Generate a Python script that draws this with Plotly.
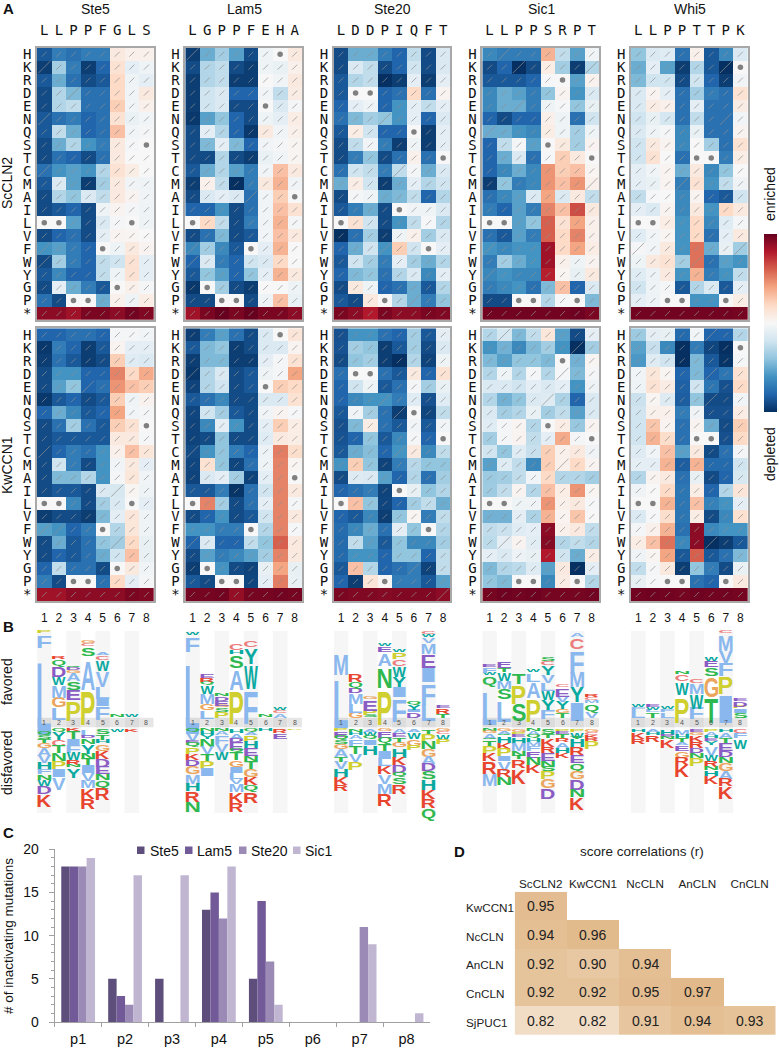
"""
Deep mutational scan figure: score heatmaps, sequence logos, inactivating mutation counts, correlations.
"""
import plotly.graph_objects as go

W, H = 779, 1050

ROWS = ["H", "K", "R", "D", "E", "N", "Q", "S", "T", "C", "M", "A", "I", "L", "V", "F", "W", "Y", "G", "P", "*"]
POSITIONS = [1, 2, 3, 4, 5, 6, 7, 8]
MOTIFS = ["Ste5", "Lam5", "Ste20", "Sic1", "Whi5"]
PEPTIDES = ["LLPPFGLS", "LGPPFEHA", "LDDPIQFT", "LLPPSRPT", "LLPPTTPK"]
PANEL_LEFT = [37, 185.3, 333.7, 482.3, 631]
PANEL_WIDTH = 116.7

# scores, -10 (depleted) to 10 (enriched), rows as in ROWS
STE5_SC = [
    [-8.5, -7, -7.5, -7, -7, 1, 0.5, 0.5], [-9.5, -3.5, -7, -9.5, -8, 1.5, -1, -0.5],
    [-8.5, -5, -7.5, -9, -8.5, 2, -0.5, -1], [-9, -3, -4.5, -7.5, -7.5, 2, -0.3, 1],
    [-9, -3, -2.5, -7.5, -7.5, 2.5, -0.3, 0.5], [-8.5, -7.5, -7, -8, -7.5, 1.5, -0.7, -0.3],
    [-8.5, -2.5, -5, -8, -7.5, 3, -0.3, -0.2], [-9, -5, -3, -6, -7, 1, -0.2, 0],
    [-9, -7.5, -8, -9, -7.5, 1, 0, 0], [-7.5, -6, -5.5, -6, -3, 1.5, 0.7, 0],
    [-8.5, -1.5, -5.5, -9.5, -3.5, 1, -0.3, -0.5], [-9, -3, -4, -1.5, -2.5, 1, 0.3, -0.3],
    [-9, -8.5, -8, -9, -0.5, 0.3, -0.2, -0.5], [0, 0, -5.5, -9, -1.5, -0.2, 0, -0.5],
    [-9, -8, -7.5, -9, -1, 0.3, 0.2, 0], [-6, -5.5, -7, -8, 0, -0.5, 1, 0.3],
    [-9, -3.5, -7, -8, -2.5, -2, 1.5, -1], [-8.5, -6.5, -8, -8, -2.5, -0.5, 1.5, -1],
    [-9, -1, -5, -7, -8.5, 0, 0.5, -0.2], [-7.5, -9, 0, 0, -5, 0.5, -0.5, 0.7],
    [9, 9, 8.5, 9.5, 9.5, 9, 9.7, 9.3],
]
LAM5_SC = [
    [-9.5, -5, -3.5, -5.5, -9, -0.5, 0, 1], [-9, -3, -2.5, -9, -9.5, -0.5, -0.7, 0.5],
    [-9.5, -3, -2.5, -9.5, -9.5, 0, -0.3, 1], [-9.5, -2, -1.5, -8, -8, -0.3, -2.5, 0.8],
    [-9.5, -2, -1.5, -9, -9, 0, -1.5, -0.2], [-9.7, -5.5, -4, -8, -9, -0.5, -1, 0.7],
    [-9, -1, -3, -8, -9.7, 1, -0.3, 0.5], [-9, -4.5, -1, -4.5, -8, -0.3, -0.2, 0.2],
    [-9, -9, -3, -9, -9.5, -0.7, -0.3, 0.2], [-8.5, -5, -3, -5.5, -7, -0.3, 3, 1],
    [-9.5, 0.5, -2.5, -10, -7, 1, 3.5, -0.3], [-9, -1.5, -1, -1.5, -7.5, -0.3, 2.5, 0],
    [-8, -8, -6, -9, -7.5, -0.3, 3, 1.5], [0, 2, -2.5, -9, -7, -0.3, 3.5, -0.2],
    [-9, -7.5, -4.5, -9, -8.5, -0.3, 3, 1], [-6.5, -3.5, -6.5, -8.5, 0, -1, 3.5, 0],
    [-8, -1.5, -7, -8, -2, -1.5, 2, 0], [-8.5, -4, -5.5, -8, -4, -1, 3.5, 1],
    [-9.7, 0, -3.5, -9, -9.5, 0, 0, -0.5], [-9, -9, 0, 0, -9, -0.5, 3, -0.7],
    [8.5, 9.5, 10, 9.5, 10, 9.5, 9.5, 9],
]
STE20_SC = [
    [-9, -5, -5, -7, -8, -2.5, -9, -1.5], [-9, -1.5, -2.5, -9, -8, -2, -9, -1.5],
    [-8.5, -3, -2.5, -10, -9.5, -1, -9.5, -1], [-8.5, 0, 0, -8, -7.5, 2, -7.5, 0.3],
    [-8, -1, -0.5, -8, -6, -1, -2.5, -1], [-7.5, -4.5, -3.5, -4, -6, -1, -8, -1.5],
    [-8.5, 0.7, -2, -8, -8, 0, -9.5, -1], [-9, -2.5, -0.3, -7, -9.5, -0.5, -9.5, -1],
    [-9, -7, -4, -9, -7.5, 0.5, -7.5, 0], [-7.5, -2, -2.5, -7, -2.5, -0.2, -5, -1.5],
    [-5, 0.7, -2, -9.5, -5, -1, -3, -2], [-9, -0.2, -0.5, -5, -4.5, -2.5, -8, -3],
    [-8.5, -7, -5, -9, 0, -0.3, -0.5, -1.5], [0, 1.5, -2, -9, -6, -2.5, -0.1, -3],
    [-10, -7.5, -3.5, -9.5, -0.5, 0.5, -3.5, -1.5], [-8, -5, -2, -6, 2.5, -2, 0, -1],
    [-8.5, -2, -3.5, -7, -1, -3.5, -5, -3], [-8, -4.5, -4, -7.5, -3, -1.5, -6.5, -1],
    [-9, 1, -0.5, -8, -7.5, -5, -8.5, -3], [-8.5, -9, 1, 0, -3, -5, -7, -4],
    [9.5, 9, 8, 9.5, 9, 9, 9.5, 9.3],
]
SIC1_SC = [
    [-6.5, -7, -7, -7, 3.5, -2.5, -5.5, -0.3], [-9, -8, -10, -9, 0.7, -3.5, -9.5, -3],
    [-8.5, -8.5, -8.5, -8, -0.1, 0, -5.5, 0.4], [-6.5, -5, -5.5, -7, -4, 0.3, -6, -1.5],
    [-6.5, -5, -5, -7, -0.5, -0.1, -4, -0.8], [-8, -9, -8, -8, 0.5, -0.5, -7.5, -2],
    [-5, -5, -6, -6.5, 0.7, -0.5, -3.5, -0.5], [-8, -2.5, -0.2, -5.5, 0, 1, -3.5, 0.3],
    [-8, -5, -1.5, -7.5, -0.1, 2.5, 1, 0], [-8, -6.5, -5, -6.5, 4.5, 2.5, 3, 0.2],
    [-9.5, -4, -7, -6.5, 4.5, 3, 4.5, 0.5], [-7.5, -6.5, -5.5, -1.5, 4, -1.5, 1, -2.5],
    [-7, -8, -5.5, -7, 5, 3, 6.5, 1], [0, 0, -5.5, -4, 6, 1.5, 4, 0.5],
    [-7.5, -8.5, -5.5, -7, 6, 2, 5, 0.5], [-6, -6.5, -6, -6, 8.5, 2, 4, 0.7],
    [-7, -3.5, -5, -6, 8.5, 0.5, -0.5, 0.3], [-6.5, -6, -6.5, -6.5, 7.8, 0.2, -0.8, 1],
    [-7, -6.5, -6, -7.5, -4.5, 3, -8, -1.5], [-9, -9, 0, 0, -3, -0.1, 0, -4.5],
    [9.7, 9.7, 9.7, 9.7, 9.7, 9.7, 9.8, 9.5],
]
WHI5_SC = [
    [-4, -1.5, -1.2, -7.5, 0.5, -8.5, -6.5, -1.5], [-5, -1, -5.5, -9.5, -3, -8.5, -10, 0],
    [-4.5, -2, -2, -9, -2, -8, -9.5, -0.3], [-1.5, 0.3, -1, -7.5, -3.5, -7, -7.5, 1.5],
    [-1.5, 0.8, 0.5, -7.5, -1, -7.5, -7.5, 0.8], [-2, -0.8, -1.8, -7.5, -2.5, -7.5, -7.5, -0.3],
    [-1.5, -0.5, -0.2, -6.5, -0.7, -7.5, -7.5, 0.3], [-2, 1, 0.3, -6.5, 0, -3.5, -7.5, 1.5],
    [-2, 1.5, 0, -7.5, 0, 0, -7, 0.7], [-1, -0.3, 0.3, -5, 1, -6.5, -4, 0],
    [-1, -0.7, 0.3, -7, 1.5, -6, -2.5, -0.4], [-2.5, -0.1, 0, -6.5, 0.3, -8, -8.5, -2],
    [-1, -1.5, 0.3, -6.5, 1, -6, 2, 1], [0, 0, 0.7, -6, 2, -6.5, -1.2, -0.2],
    [-1.2, -0.3, 0.2, -6, 2, -7.5, -1, 1], [-0.1, -0.3, 1, -6, 5.5, -5, -0.8, -3.5],
    [-0.5, 1, 1.5, -3.5, 5.5, -7.5, -5.5, -6], [-1.2, -0.6, 1, -6, 3.5, -7, -6, -2.5],
    [-2, -0.5, -0.2, -8.5, -3, -1.5, -8.5, -1], [-1, -0.6, 0, 0, -6, -6, 0, 0.7],
    [9.7, 9.7, 9.7, 9.7, 9.7, 9.7, 9.7, 9.6],
]
STE5_KW = [
    [-8, -8, -7.5, -7.5, -8, -0.2, -0.2, -0.3], [-9.7, -7, -8, -9.5, -8.5, 0.3, -1, -1],
    [-9.5, -7.5, -8.5, -9.5, -9, 2.5, -1.2, -1.5], [-9, -6, -6, -8, -8, 5, 2, 3.8],
    [-9, -5.5, -4, -8, -7.5, 4.5, 3, 2.5], [-9.7, -8.5, -8, -9, -8.5, 2.5, -0.5, 0.4],
    [-8, -5, -6.5, -8.5, -8, 4, -0.3, -0.2], [-9, -7.5, -3.5, -7.5, -8.5, 2.5, 1.5, 0],
    [-9, -8.5, -8.5, -8.5, -8.5, 1, 1, -0.1], [-9, -8, -7, -7.5, -6, 0.5, 3, 1.2],
    [-9, -2, -7, -9, -6, -0.3, 1, -1], [-9, -4.5, -4.5, -3, -6, -0.2, 1.2, -0.3],
    [-9, -8.5, -8.5, -9, -1.5, -1.7, 0.2, -0.5], [0, 0, -6.5, -9, -3.5, -1.5, 0, -1],
    [-9.5, -9, -9, -9.5, -4.5, -1, 1.2, -0.5], [-5.5, -6, -8, -7, 0, -3, 1.2, -0.5],
    [-9, -5, -8.5, -7.5, -4, -3.5, 2, -0.8], [-9, -8, -8.5, -7.5, -5, -2, 3, -0.8],
    [-8, -2.5, -7.5, -7.5, -9, 0, 1, -0.3], [-7, -9, 0, 0, -7.5, 2, -1, -0.2],
    [8.5, 8.5, 9, 9, 9, 9, 9.5, 9.3],
]
LAM5_KW = [
    [-9.5, -7, -5.5, -7.5, -9, -1.5, 0, 1.3], [-8.5, -4.5, -4, -9.5, -9, -1.5, -1.5, 0.3],
    [-9.5, -4.5, -4.5, -9.5, -9.5, -1, -0.2, 1.5], [-9.7, -3, -1.5, -9, -8.5, -0.5, -0.2, 4],
    [-9.3, -3, -2, -9, -8.5, 0, 2.5, 2], [-8.5, -7.5, -6.5, -9, -9, -1.5, -1.5, 1.5],
    [-9.2, -2, -3.5, -8.5, -9, -0.3, 0.3, -0.1], [-9.3, -6.5, -1, -6, -9, -1, 2.5, 0.7],
    [-9.3, -9, -4, -9, -9, -1.2, 1, 0.7], [-9, -6, -4, -7, -8, -0.6, 5.2, 1.8],
    [-9.2, 1.5, -4, -9.2, -7.5, -0.5, 5, 0.2], [-9.3, -1.5, -1, -3.5, -9.3, -1, 5, 0],
    [-8.5, -8.5, -7, -9.8, -7.5, -2, 5, 1], [0, 5, -3.5, -9, -7.5, -1, 5, -0.2],
    [-9, -8, -6, -9, -8.5, -2, 5, 1], [-6, -6, -7, -7, 0, -3, 5, -0.1],
    [-8, -1.5, -8, -8, -2.5, -4, 6, 1], [-9, -5.5, -7, -6.5, -5.5, -3.5, 5, 1],
    [-9.5, 0, -6, -9, -9.3, -0.8, 4, -0.8], [-8.5, -9, 0, 0, -9.2, -1, 5.2, -0.7],
    [9.6, 9.6, 9.7, 8.8, 9.6, 9.6, 9.7, 9.6],
]
STE20_KW = [
    [-8.8, -6, -6, -7.5, -8, -3.5, -8.5, -1], [-8.7, -3.5, -4, -9.5, -8.5, -3.5, -9, -1.5],
    [-9, -4, -3.5, -9.5, -10, -3, -9.3, -0.5], [-7.5, 0, 0, -7.5, -8.5, 1, -8, 1.5],
    [-8, -2, -0.5, -8.5, -7.5, -0.2, -3.5, -0.7], [-8, -6.5, -6, -6, -7, -1.2, -8.8, -1.2],
    [-8.5, -0.3, -3.5, -7.5, -9.5, 0, -9.2, -2.5], [-8.8, -4.5, 0.7, -7.5, -8.5, -0.3, -8.5, -0.3],
    [-8.7, -8, -4, -8.5, -6.5, -0.2, -8, 0], [-8.5, -5, -4.3, -8, -6, 1, -6.5, -2.5],
    [-6, 2.5, -4, -9.3, -7, -2.8, -4, -4], [-9, -1.3, -1.5, -5.5, -8, -3, -7.5, -3.5],
    [-8, -7.5, -7, -9.3, 0, -0.8, -4, -3], [0, 3, -4, -9.2, -8, -3.5, -2.5, -5],
    [-8, -8.5, -6.5, -9.5, -4, 0.2, -7, -2.5], [-7.7, -6.5, -5, -7.5, -1, -4, 0, -3],
    [-7.8, -2.5, -5.5, -8.5, -4, -6.5, -6.5, -3.5], [-7.8, -6, -6, -8, -4, -4, -8, -2.5],
    [-8.5, 3, -3, -8, -7.5, -7, -9.3, -2.5], [-8, -9.5, 1.3, 0.1, -7, -7, -8.5, -5.5],
    [9.5, 9.3, 9.3, 9.2, 9.3, 9.3, 9.3, 9],
]
SIC1_KW = [
    [-3, -1.8, -4.5, -2.5, 1.2, -5.5, -9, -1], [-6, -4.8, -6.5, -4.5, -3.5, -6, -10, -3.5],
    [-4.5, -5.5, -4, -4, -4.5, 0, -4.8, 0.2], [-3, -0.5, -3, -0.2, -3, -0.1, -4.5, -0.2],
    [-1.5, -1.5, -2, -1, -1.5, -1, -6, -0.6], [-3, -4.8, -4, -1.5, -1.3, -3.2, -8, -1.5],
    [-1.5, -3.5, -3, -0.7, -3.5, -2.5, -5.5, -1.5], [-1.2, -0.2, 0.2, -3, 0, 0.7, -3.8, 0.3],
    [-3.5, -0.2, 0.3, -2.5, -1, 3.8, -0.2, 0], [-2, -4, -1.2, -2.3, 2.5, 0.5, 1, -0.4],
    [-5.5, -1.2, -2.5, -6.5, 2.5, 0.5, 2, 0.3], [-3.7, -3.5, -2.5, -0.3, 2, -3, -3, -3.5],
    [-3.6, -2.5, 0.3, -3, 3, 0.7, 4.5, 0.2], [0, 0, -0.5, -0.4, 4.5, 0.5, 1, -0.1],
    [-4.8, -4.8, -1, -3.2, 3.5, 0.3, 2.8, 0], [-2.5, -2.2, -1.2, -1, 9, 0.5, 1, -2.5],
    [-2.7, -1, 0.3, -1.1, 9.2, -3, -2.5, -3], [-1, -1.5, -0.6, -0.8, 8, -2, -5, 0.7],
    [-4.5, -3, -2.7, -1.3, -5.5, 1, -10, -1], [-4, -4.5, 0, 0, -6.5, 0.8, 0, -3],
    [9.6, 9.8, 9.7, 9.8, 9.6, 9.6, 9.6, 9.7],
]
WHI5_KW = [
    [-3.7, -1, -0.8, -7.8, -0.3, -8, -8, -3], [-5.5, -2.3, -6.5, -10, -7, -9.2, -10, 0],
    [-5.8, -1.2, -2, -10, -4.5, -8.5, -9.8, -0.2], [-0.3, 1.2, 0.2, -8, -4.5, -8, -7.3, 1.5],
    [-0.5, 1.5, 0.8, -8.2, -2, -7.3, -8.8, 2], [-2.2, 0.2, -1.3, -8.3, -4, -9, -9, -0.3],
    [-2, 0.5, 0.5, -7, -0.4, -8.8, -8.8, 0.7], [-2, 2.8, 0.3, -7.5, 0.3, -5, -9, 2.5],
    [-2, 3.5, 1.8, -7.5, 0, 0, -8.8, 2], [-1.3, -0.3, 3, -5.5, 1, -9, -7.5, -0.2],
    [-1, -1, 3.5, -8.3, 3.5, -7.8, -7.8, -2], [-3, 0.3, 1, -7.5, -0.8, -9, -8, -1.7],
    [-0.4, 0, 2, -7.3, 0.7, -8, -3, 1.3], [0, 0, 3.5, -7.3, 3, -6.8, -6, -1],
    [-1.5, -0.1, 1.8, -7.3, 0.7, -9, -6.5, 1.6], [-0.2, 0.5, 3.5, -7.5, 9, -6.5, -6, -6],
    [0.7, 3, 5.5, -6.5, 9, -10, -9.5, -8.5], [-0.4, 0.2, 4, -8.5, 6, -8.5, -7.5, -4.5],
    [-2.5, -0.2, 1, -9.5, -4, -7, -9, -0.7], [-0.8, -0.1, 0, 0, -7.5, -8, 0, 1],
    [9.7, 9.8, 9.7, 9.6, 9.8, 9.7, 9.7, 9.6],
]
SCORES_SC = [STE5_SC, LAM5_SC, STE20_SC, SIC1_SC, WHI5_SC]
SCORES_KW = [STE5_KW, LAM5_KW, STE20_KW, SIC1_KW, WHI5_KW]

# cells with a long error slash, row letter + position
LONG_SC = [["K1", "N1", "C1", "W1", "F1", "D3"], ["W1", "F1", "H1", "A5"], ["C5", "N4", "F4", "P6"],
           ["K3", "H2", "Q1", "Y1", "F1", "M8", "K8", "E3"], ["F1", "K7", "M4", "W5", "F8", "N7"]]
LONG_KW = [["C1", "F1", "F2", "E4", "I6", "W6"], ["W1", "C1", "D1"], ["N4", "Q5", "C5", "*8", "G6"],
           ["W2", "H2", "N5", "D6", "K7", "M6"], ["N6", "H6", "D6", "W6"]]

# logo stacks in letter+height, favored from the baseline up, disfavored from the baseline down
LOGO_FAV = [
    ["L72 F12 P2", "L12 G10 M12 W8 D10 Q6 R2", "P19 E10 S8 A7 G3 D3 Q2", "P34 A29 S8 C3 G3",
     "F13 I8 L12 V15 W10 C4 A3", "N2", "W2", ""],
    ["L68 F14 W3", "L8 G7 M10 W8 Q3 R4 E4", "P6 S4 G2 E5 D4 N3", "P32 A20 S12 H4 C7",
     "F33 W23 Y15 C6", "N2", "A4 C3 W2", ""],
    ["L47 M21", "G6 L9 M10 D5 Q6 R7", "S3 P5 E10 G3", "P34 N20 A12 E5 W3",
     "F22 I10 Y10 W10 C7 P6 W2", "D5 I3 Y5 Q3", "L17 F21 I14 E13 M10 V5 W3 C2", "T4 R5 E3"],
    ["L32 Q10 W3 F5 E2", "L20 S10 M8 W8 T4 E6", "S17 P18 T10", "P22 A15 L8 W2",
     "F9 Y10 W9 L8 V8 Y9 C4 S4", "T5 G4 Y7 V6 E8 C3", "I18 Y15 M15 F22 C11 A4", "V6 Q8 M3 C3 R3"],
    ["L7 F3 W3", "T5 L2 W3 E2", "L5 F3 W3", "P25 W12 C6 N3", "F11 W14 M10 C4",
     "T24 G19 S8 E6 W4", "I27 P17 F13 V12 M15 C3", "S5 I4 P2 D5 E2"],
]
LOGO_DIS = [
    ["M3 Q3 S4 T4 G5 A7 V7 H7 F5 N5 W6 D8 K12", "Q3 Y7 C6 T7 N8 P8 I8 V12", "K2 T7 I6 F8 W7 R5 N3 Y9",
     "L6 D3 N5 Y9 N6 T7 I7 V8 M7 K10 R10", "S5 T5 H4 G7 K8 D8 E7 N6 Q8 R11", "W3", "K3", ""],
    ["Q3 V8 E3 Q4 P6 K6 D6 G8 M9 H8 R10 N10", "N2 H4 Y4 N7 V7 T8 P7 I7", "N2 A4 F8 V8 W8",
     "H4 A5 D4 E7 Q3 T7 G7 I6 L6 V5 M8 K10 R9", "Q3 A3 P6 H7 E7 N5 T8 G8 K8 Q7 R10", "H2", "R4 E5", "P1"],
    ["P2 E5 Q4 S4 G5 A7 T5 V7 H8 K8 R6", "N3 H3 A4 F6 T8 V8 P8", "A3 W4 Q3 I5 H9",
     "G2 E6 Q6 T8 I7 L7 K8 V9 M10 R12", "A4 E4 T5 G5 H9 K8 D8 Q5 S6 R9", "A3 W6 G7 P5",
     "T5 P7 N7 G8 A7 D7 S8 H10 K9 R9 Q12", "G2 C3 W5 P5"],
    ["N2 G2 A5 Q2 T6 P7 K7 R12 M12", "G2 A3 Q2 H6 K6 P7 I5 V9 R7 N8", "G3 P3 E2 H6 M7 N5 T4 R8 K14",
     "N2 A4 Q3 H4 M4 F5 E6 N7 K8", "S5 T4 K8 R6 E8 N6 S5 P7 G9 D10", "P3 E2 T4 R4 A5 H5 K5",
     "P3 W5 T2 H7 R8 E8 Q8 G8 D10 N8 K12", "G3 C3 K3 R3 P7"],
    ["H3 K6 R5", "A3 H3 R6", "H5 E3 N2 K8", "M5 H4 T4 A3 E5 G7 R7 K11", "E3 G3 K6 R6 D5 N5 P8",
     "P3 A4 H2 E3 Y4 V9 W6 R6 N4 H5 K8", "H3 A5 T5 E8 D6 N6 G8 A8 R7 K12", "C4 F5 W9"],
]
LETTER_COLORS = {"A": "#8ab8ee", "F": "#8ab8ee", "I": "#8ab8ee", "L": "#8ab8ee", "M": "#8ab8ee", "V": "#8ab8ee",
                 "C": "#eb7d7d", "D": "#8a5cc4", "E": "#8a5cc4", "G": "#eba55d", "H": "#0aa9a0", "W": "#0aa9a0",
                 "Y": "#0aa9a0", "K": "#e8452f", "R": "#e8452f", "N": "#2eb84f", "Q": "#2eb84f", "S": "#2eb84f",
                 "T": "#2eb84f", "P": "#cfcf30"}

BAR_CATEGORIES = ["p1", "p2", "p3", "p4", "p5", "p6", "p7", "p8"]
BAR_STE5 = [18, 5, 5, 13, 5, 0, 0, 0]
BAR_LAM5 = [18, 3, 0, 15, 14, 0, 0, 0]
BAR_STE20 = [18, 2, 0, 12, 7, 0, 11, 0]
BAR_SIC1 = [19, 17, 17, 18, 2, 0, 9, 1]
BAR_COLORS = ["#5d4e7b", "#725a98", "#9a8ab5", "#c0b6d2"]

CORR_COLS = ["ScCLN2", "KwCCN1", "NcCLN", "AnCLN", "CnCLN"]
CORR_ROWS = ["KwCCN1", "NcCLN", "AnCLN", "CnCLN", "SjPUC1"]
CORR_VALUES = [
    [0.95, None, None, None, None],
    [0.94, 0.96, None, None, None],
    [0.92, 0.90, 0.94, None, None],
    [0.92, 0.92, 0.95, 0.97, None],
    [0.82, 0.82, 0.91, 0.94, 0.93],
]

RDBU = ["#053061", "#2166ac", "#4393c3", "#92c5de", "#d1e5f0", "#f7f7f7", "#fddbc7", "#f4a582", "#d6604d", "#b2182b", "#67001f"]
SANS = "Liberation Sans"
MONO = "DejaVu Sans Mono"

fig = go.Figure()
shapes = []
annotations = []
axis_count = 0


def dom_x(x0, x1):
    return [x0 / W, x1 / W]


def dom_y(y_top, y_bottom):
    return [1 - y_bottom / H, 1 - y_top / H]


def new_axes(x_opts, y_opts):
    """Register one x/y axis pair and return the trace references."""
    global axis_count
    axis_count += 1
    n = axis_count
    fig.update_layout(**{
        f"xaxis{n}": dict(anchor=f"y{n}", showgrid=False, zeroline=False, automargin=False, **x_opts),
        f"yaxis{n}": dict(anchor=f"x{n}", showgrid=False, zeroline=False, automargin=False, **y_opts),
    })
    return f"x{n}", f"y{n}"


def label(x, y, text, size=13, angle=0, bold=False, xanchor="center", color="#111111", family=SANS):
    annotations.append(dict(xref="paper", yref="paper", x=x / W, y=1 - y / H, text=f"<b>{text}</b>" if bold else text,
                            showarrow=False, textangle=angle, xanchor=xanchor, yanchor="middle",
                            font=dict(size=size, family=family, color=color)))


def add_score_map(i, scores, long_cells, y_top, y_bottom, is_top):
    x_opts = dict(domain=dom_x(PANEL_LEFT[i], PANEL_LEFT[i] + PANEL_WIDTH), range=[0.5, 8.5], tickmode="array",
                  tickvals=POSITIONS, ticklen=0, showline=True, mirror=True, linecolor="#a8a8a8", linewidth=1.5)
    if is_top:
        x_opts.update(side="top", ticktext=list(PEPTIDES[i]), tickfont=dict(family=MONO, size=14, color="#111111"),
                      ticklabelstandoff=5)
    else:
        x_opts.update(side="bottom", ticktext=[str(p) for p in POSITIONS], tickfont=dict(family=SANS, size=12, color="#111111"),
                      ticklabelstandoff=5)
    y_opts = dict(domain=dom_y(y_top, y_bottom), range=[20.5, -0.5], tickmode="array", tickvals=list(range(21)),
                  ticktext=ROWS, tickfont=dict(family=MONO, size=14, color="#111111"), ticklen=0,
                  showline=True, mirror=True, linecolor="#a8a8a8", linewidth=1.5, ticklabelstandoff=1)
    xa, ya = new_axes(x_opts, y_opts)
    fig.add_trace(go.Heatmap(z=scores, x=POSITIONS, y=list(range(21)), coloraxis="coloraxis", xaxis=xa, yaxis=ya))

    # wild-type residues get a dot, every other cell its error slash
    dot_x, dot_y, slash_x, slash_y, slash_size = [], [], [], [], []
    for r, aa in enumerate(ROWS):
        for p in POSITIONS:
            if PEPTIDES[i][p - 1] == aa:
                dot_x.append(p)
                dot_y.append(r)
            else:
                slash_x.append(p)
                slash_y.append(r)
                slash_size.append(12 if f"{aa}{p}" in long_cells else 5)
    fig.add_trace(go.Scatter(x=slash_x, y=slash_y, mode="markers", xaxis=xa, yaxis=ya, showlegend=False,
                             marker=dict(symbol="line-ne", size=slash_size, line=dict(color="#8f8f8f", width=1))))
    fig.add_trace(go.Scatter(x=dot_x, y=dot_y, mode="markers", xaxis=xa, yaxis=ya, showlegend=False,
                             marker=dict(symbol="circle", size=5.5, color="#808080")))


def add_logo(i):
    top, bottom, base = 631, 813.3, 716.7
    xa, ya = new_axes(dict(domain=dom_x(PANEL_LEFT[i], PANEL_LEFT[i] + PANEL_WIDTH), range=[0.5, 8.5], visible=False),
                      dict(domain=dom_y(top, bottom), range=[base - bottom, base - top], visible=False))
    xs, ys, letters, sizes, colors = [], [], [], [], []
    for p in POSITIONS:
        if p % 2 == 1:
            shapes.append(dict(type="rect", xref=xa, yref=ya, layer="below", x0=p - 0.5, x1=p + 0.5,
                               y0=base - bottom, y1=base - top, fillcolor="#f6f6f6", line_width=0))
        shapes.append(dict(type="rect", xref=xa, yref=ya, layer="below", x0=p - 0.5, x1=p + 0.5, y0=-10.6, y1=-1,
                           fillcolor="#dcdcdc" if p % 2 == 1 else "#e6e6e6", line_width=0))
        annotations.append(dict(xref=xa, yref=ya, x=p, y=-5.8, text=str(p), showarrow=False,
                                font=dict(size=7, family=SANS, color="#555555")))
        for stacks, start, sign in ((LOGO_FAV, 0, 1), (LOGO_DIS, -11.6, -1)):
            level = start
            for item in stacks[i][p - 1].split():
                height = float(item[1:])
                xs.append(p)
                ys.append(level + sign * height / 2)
                letters.append(item[0])
                sizes.append(height)
                colors.append(LETTER_COLORS[item[0]])
                level += sign * height
    fig.add_trace(go.Scatter(x=xs, y=ys, text=letters, mode="text", xaxis=xa, yaxis=ya, cliponaxis=False, showlegend=False,
                             textposition="middle center",
                             textfont=dict(size=sizes, color=colors, family=SANS, weight="bold")))


for i in range(5):
    add_score_map(i, SCORES_SC[i], LONG_SC[i], 47.7, 320, True)
    add_score_map(i, SCORES_KW[i], LONG_KW[i], 328.3, 601, False)
    add_logo(i)
    label(PANEL_LEFT[i] + PANEL_WIDTH / 2 + 0.5, 9, MOTIFS[i], size=14)

# panel C
bar_x, bar_y = new_axes(
    dict(domain=dom_x(54.7, 430), type="category", categoryorder="array", categoryarray=BAR_CATEGORIES, tickson="boundaries",
         ticks="outside", ticklen=4, tickcolor="#a0a0a0", showline=True, linecolor="#a0a0a0", linewidth=1,
         tickfont=dict(family=SANS, size=14.5, color="#111111"), ticklabelstandoff=4),
    dict(domain=dom_y(849.3, 1022), range=[0, 20], tickmode="array", tickvals=[0, 5, 10, 15, 20], ticks="outside", ticklen=5,
         tickcolor="#a0a0a0", showline=True, linecolor="#a0a0a0", linewidth=1,
         minor=dict(tickmode="array", tickvals=list(range(21)), ticks="outside", ticklen=3, tickcolor="#a0a0a0"),
         tickfont=dict(family=SANS, size=14, color="#111111"), ticklabelstandoff=7))
for name, values, color in zip(MOTIFS, [BAR_STE5, BAR_LAM5, BAR_STE20, BAR_SIC1], BAR_COLORS):
    fig.add_trace(go.Bar(x=BAR_CATEGORIES, y=values, name=name, marker=dict(color=color, line_width=0),
                         xaxis=bar_x, yaxis=bar_y, showlegend=False))
for name, color, sw_x, txt_x in zip(MOTIFS, BAR_COLORS, [137, 185, 239, 293], [148, 195, 249, 303]):
    shapes.append(dict(type="rect", xref="paper", yref="paper", x0=sw_x / W, x1=(sw_x + 7.5) / W, y0=1 - 854 / H, y1=1 - 846.5 / H,
                       fillcolor=color, line_width=0))
    label(txt_x, 850.5, name, size=14, xanchor="left")

# panel D
cx, cy = new_axes(
    dict(domain=dom_x(514.7, 775.7), side="top", ticklen=0, tickfont=dict(family=SANS, size=11.7, color="#222222"),
         tickmode="array", tickvals=CORR_COLS, ticktext=CORR_COLS, type="category"),
    dict(domain=dom_y(891.7, 1035), autorange="reversed", showticklabels=False, ticklen=0, type="category"))
fig.add_trace(go.Heatmap(z=CORR_VALUES, x=CORR_COLS, y=CORR_ROWS, xaxis=cx, yaxis=cy, showscale=False, zmin=0.82, zmax=0.97,
                         colorscale=[[0, "#f1dcc5"], [0.5, "#e8c9a4"], [1, "#e1b98a"]], hoverongaps=False, xgap=0, ygap=0,
                         texttemplate="%{z:.2f}", textfont=dict(family=SANS, size=14, color="#222222")))
for r, name in enumerate(CORR_ROWS):
    label(464, 907.5 + r * 28.67, name, size=11.7, xanchor="left", color="#222222")

label(1, 8, "A", size=15, bold=True, xanchor="left")
label(1, 626, "B", size=15, bold=True, xanchor="left")
label(1, 832, "C", size=15, bold=True, xanchor="left")
label(452, 851, "D", size=15, bold=True, xanchor="left")
label(7, 183, "ScCLN2", size=14, angle=-90)
label(7, 465, "KwCCN1", size=14, angle=-90)
label(7, 682, "favored", size=14, angle=-90)
label(7, 763, "disfavored", size=14, angle=-90)
label(770, 194, "enriched", size=14, angle=-90)
label(770, 454, "depleted", size=14, angle=-90)
label(8, 936, "# of inactivating mutations", size=13.5, angle=-90)
label(641.7, 851, "score correlations (r)", size=13.5, color="#222222")

fig.update_layout(
    width=W, height=H, autosize=False, margin=dict(l=0, r=0, t=0, b=0, autoexpand=False), paper_bgcolor="white", plot_bgcolor="white",
    bargap=0.28, bargroupgap=0, barmode="group", showlegend=False, shapes=shapes, annotations=annotations,
    coloraxis=dict(cmin=-10, cmax=10, colorscale=[[n / 10, c] for n, c in enumerate(RDBU)],
                   colorbar=dict(x=763.7 / W, xanchor="left", y=1 - 411.7 / H, yanchor="bottom", lenmode="pixels", len=177.7,
                                 thickness=13, thicknessmode="pixels", xpad=0, ypad=0, outlinewidth=0, showticklabels=False,
                                 ticks="")),
)

# letters of a logo are stretched to fill their column, height comes from the font size set above
STRETCH_LOGOS = """
document.body.style.margin = '0';
var ctx = document.createElement('canvas').getContext('2d');
ctx.font = "bold 100px 'Liberation Sans'";
document.querySelectorAll('.textpoint text').forEach(function(t) {
  var h = parseFloat(t.style.fontSize), cx = +t.getAttribute('x'), cy = +t.getAttribute('y'), s = t.textContent;
  var m = ctx.measureText(s), l = -m.actualBoundingBoxLeft, r = m.actualBoundingBoxRight;
  var a = m.actualBoundingBoxAscent, b = m.actualBoundingBoxDescent;
  var sx = 13.6 / (r - l), sy = h / (a + b);
  t.textContent = s;
  t.setAttribute('x', 0);
  t.setAttribute('y', 0);
  t.setAttribute('text-anchor', 'start');
  t.style.fontSize = '100px';
  t.setAttribute('transform', 'translate(' + (cx - 6.8 - l * sx) + ',' + (cy + h / 2 - b * sy) + ') scale(' + sx + ',' + sy + ')');
});
"""

fig.write_html("out.html", post_script=STRETCH_LOGOS, config={"displayModeBar": False})
